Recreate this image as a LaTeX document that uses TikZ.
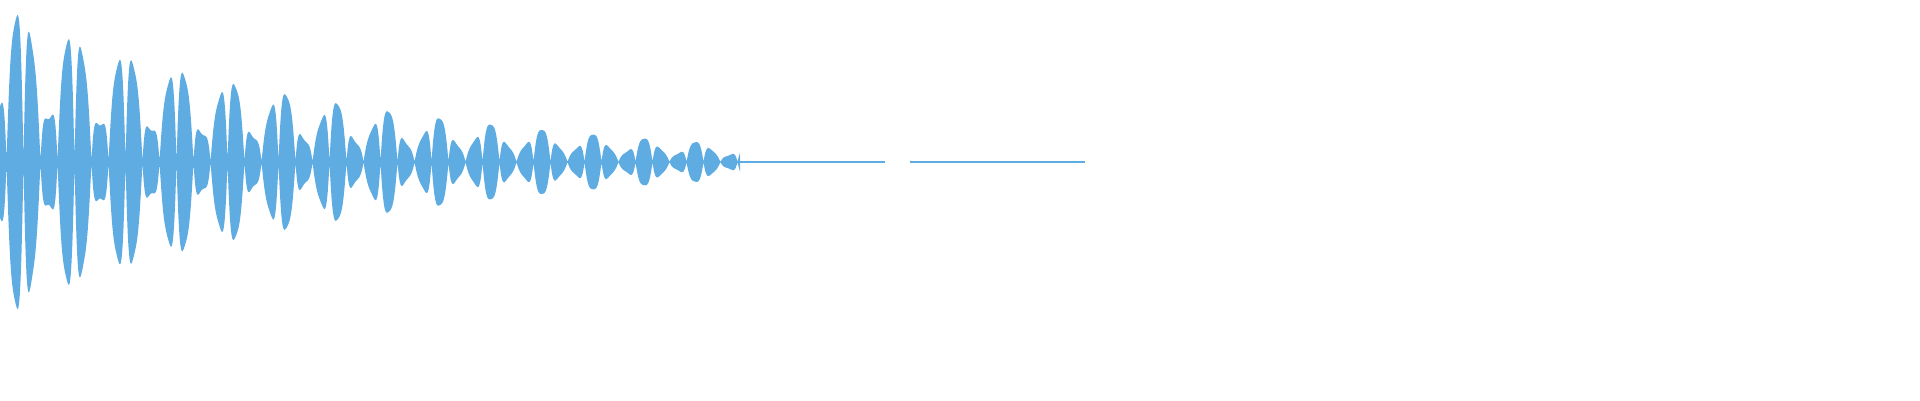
\documentclass[tikz,border=0pt]{standalone}
\definecolor{wavecol}{RGB}{95,172,226}
\tikzset{wave/.style={fill=wavecol,draw=none}}
\begin{document}
\begin{tikzpicture}[x=1pt,y=1pt,
  declare function={lobe(\t)=abs(cos((\t-15)/17*180));
    env(\t)=165*exp(-\t/330)*(0.65+0.35*cos((\t-22)/52*360))*lobe(\t)*(2-lobe(\t));}]
\useasboundingbox (0,0) rectangle (1920,-400);
% Decaying waveform, mirrored about the centre line
\fill[wave] plot[domain=0:740,samples=1200] (\x,{-162+env(\x)})
  -- plot[domain=740:0,samples=1200] (\x,{-162-env(\x)}) -- cycle;
% Quiet tail
\fill[wave] (740,-161.2) rectangle (885,-162.8);
\fill[wave] (910,-161.2) rectangle (1085,-162.8);
\end{tikzpicture}
\end{document}
